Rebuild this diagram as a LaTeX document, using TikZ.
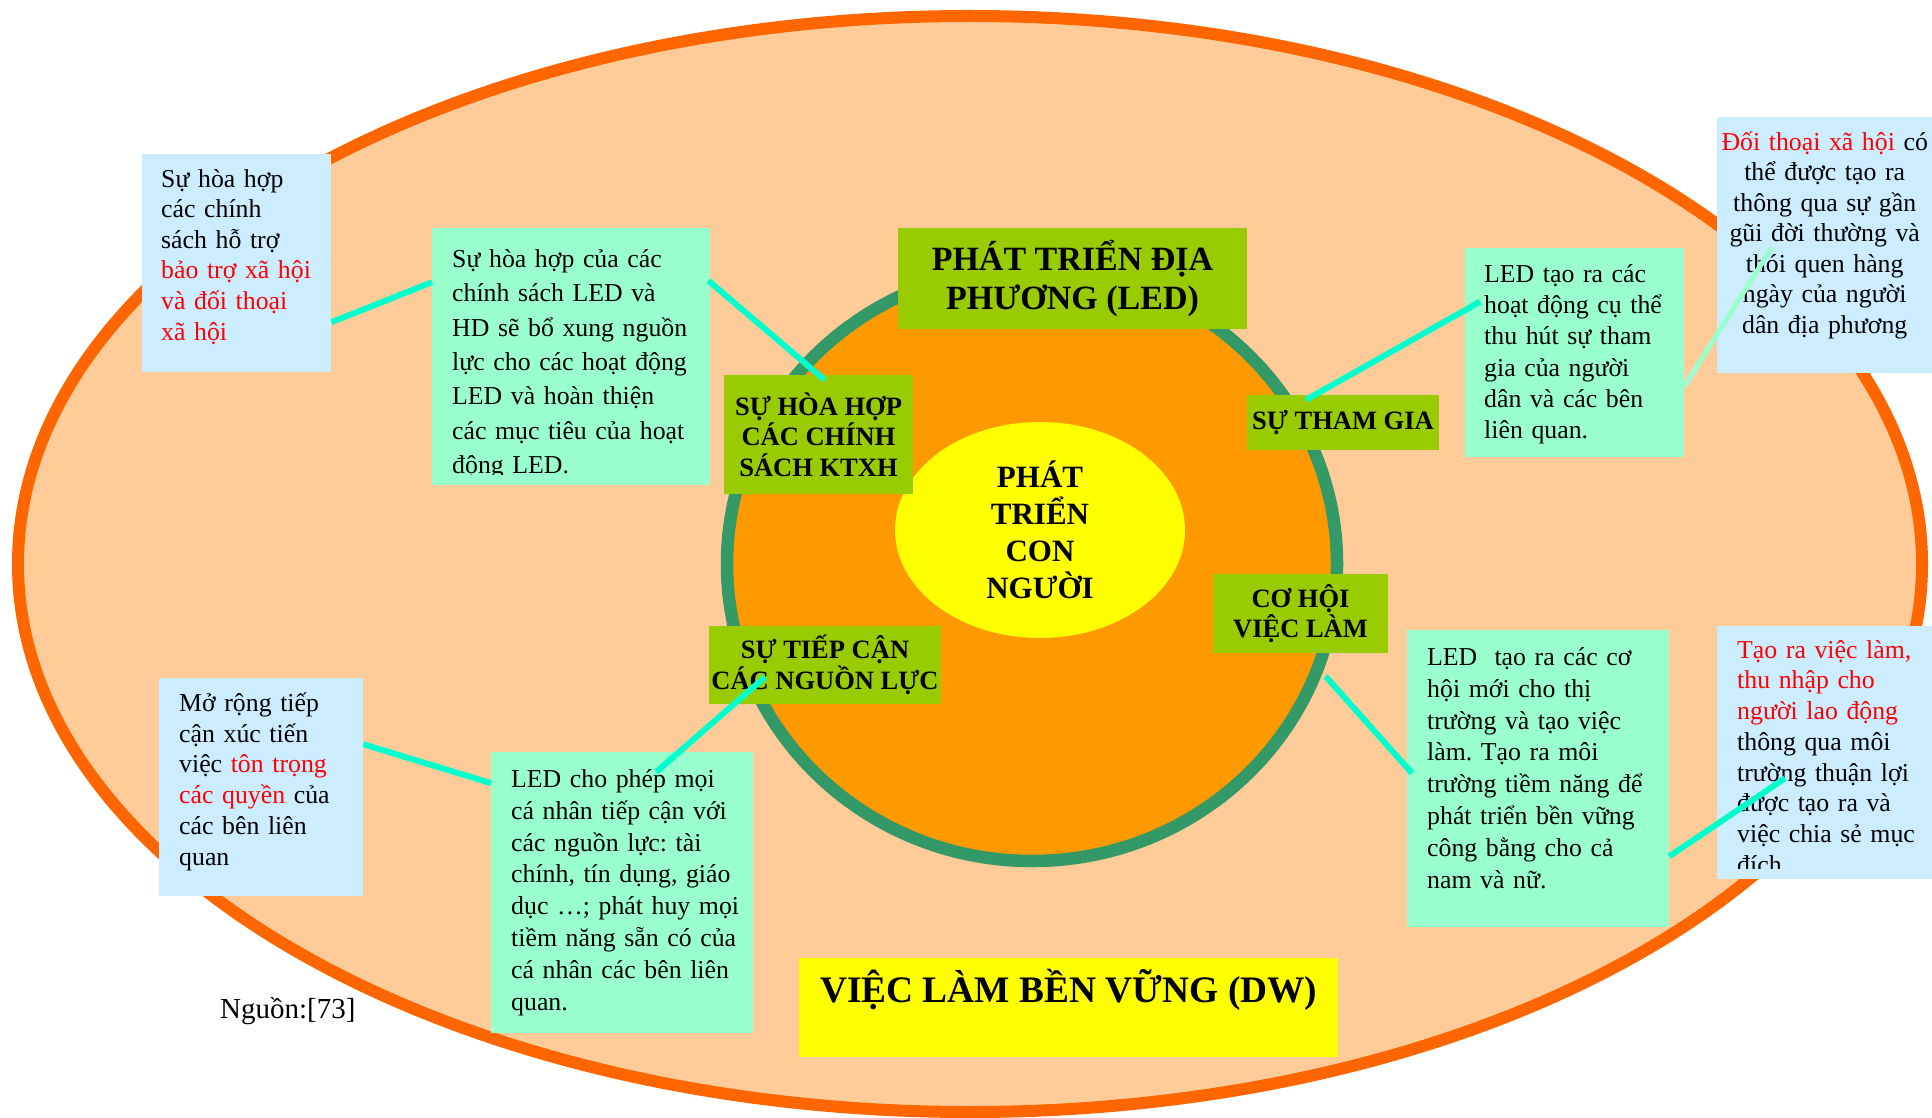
\documentclass[tikz,border=0pt]{standalone}
\usepackage{fontspec}
\setmainfont{Liberation Serif}
\usepackage{tikz}
\usetikzlibrary{shapes}
\usepackage{xcolor}
\frenchspacing

\definecolor{peach}{HTML}{FFCC99}
\definecolor{rimOrange}{HTML}{FF6600}
\definecolor{ringGreen}{HTML}{339966}
\definecolor{coreOrange}{HTML}{FF9900}
\definecolor{sunYellow}{HTML}{FFFF00}
\definecolor{tagGreen}{HTML}{99CC00}
\definecolor{mintGreen}{HTML}{99FFCC}
\definecolor{skyBlue}{HTML}{CCECFF}
\definecolor{aquaLine}{HTML}{00FFCC}

\begin{document}
\begin{tikzpicture}[x=1pt,y=-1pt]
			\tikzstyle{note} = [rectangle, anchor=north west, inner ysep=0pt, align=left, execute at begin node={\rightskip=0pt plus 1fil minus 60pt\relax}, font=\fontsize{25.8}{30.7}\selectfont]
			\tikzstyle{tag} = [rectangle, fill=tagGreen, inner sep=0pt, align=center, font=\bfseries\fontsize{26.5}{30.5}\selectfont]
			\tikzstyle{link} = [line width=6pt, aquaLine]

			\useasboundingbox (0,0) rectangle (1932,1118);

			\draw [line width=12pt, draw=rimOrange, fill=peach] (970,564) ellipse [x radius=952pt, y radius=548pt];
			\draw [line width=12.5pt, draw=ringGreen, fill=coreOrange] (1032,564) ellipse [x radius=305pt, y radius=297pt];

			\node [ellipse, fill=sunYellow, minimum width=290pt, minimum height=216pt, inner sep=0pt, align=center, font=\bfseries\fontsize{31}{37}\selectfont] (conNguoi) at (1040,530) {PHÁT\\TRIỂN\\CON\\NGƯỜI};

			\node [tag, minimum width=349pt, minimum height=101pt, font=\bfseries\fontsize{34}{39}\selectfont] (led) at (1072.5,278.5) {PHÁT TRIỂN ĐỊA\\PHƯƠNG (LED)};
			\node [tag, minimum width=189pt, minimum height=119pt] (ktxh) at (818.5,434.5) {SỰ HÒA HỢP\\CÁC CHÍNH\\SÁCH KTXH};
			\node [tag, minimum width=192pt, minimum height=55pt] (thamGia) at (1343,422.5) {SỰ THAM GIA};
			\node [tag, minimum width=175pt, minimum height=79pt] (coHoi) at (1300.5,613.5) {CƠ HỘI\\VIỆC LÀM};
			\node [tag, minimum width=232pt, minimum height=78pt] (tiepCan) at (825,665) {SỰ TIẾP CẬN\\CÁC NGUỒN LỰC};

			\node [note, fill=skyBlue, inner xsep=19pt, text width=151pt, text height=33pt, text depth=185pt, font=\fontsize{25.8}{30.6}\selectfont] (hoTro) at (142,154) {Sự hòa hợp\\các chính\\sách hỗ trợ\\\textcolor{red}{bảo trợ xã hội\\và đối thoại\\xã hội}};
			\node [note, fill=mintGreen, inner xsep=20pt, text width=238pt, text height=39pt, text depth=218pt, font=\fontsize{25.8}{34.4}\selectfont] (chinhSach) at (432,228) {Sự hòa hợp của các\\chính sách LED và\\HD sẽ bổ xung nguồn\\lực cho các hoạt động\\LED và hoàn thiện\\các mục tiêu của hoạt\\động LED.};
			\node [note, fill=mintGreen, inner xsep=19pt, text width=181pt, text height=34pt, text depth=175pt, font=\fontsize{25.8}{31.3}\selectfont] (thuHut) at (1465,248) {LED tạo ra các\\hoạt động cụ thể\\thu hút sự tham\\gia của người\\dân và các bên\\liên quan.};
			\node [note, fill=skyBlue, inner xsep=8pt, text width=199pt, text height=33pt, text depth=223pt, align=center, execute at begin node={\leftskip=0pt plus 1fil minus 30pt\rightskip=0pt plus 1fil minus 30pt\relax}, font=\fontsize{25.8}{30.5}\selectfont] (doiThoai) at (1717,117) {\textcolor{red}{Đối thoại xã hội} có\\thể được tạo ra\\thông qua sự gần\\gũi đời thường và\\thói quen hàng\\ngày của người\\dân địa phương};
			\node [note, fill=skyBlue, inner xsep=20pt, text width=164pt, text height=33pt, text depth=185pt, font=\fontsize{25.8}{30.8}\selectfont] (quyen) at (159,678) {Mở rộng tiếp\\cận xúc tiến\\việc \textcolor{red}{tôn trọng\\các quyền} của\\các bên liên\\quan};
			\node [note, fill=mintGreen, inner xsep=20pt, text width=222pt, text height=35pt, text depth=246pt, font=\fontsize{25.8}{31.9}\selectfont] (nguonLuc) at (491,752) {LED cho phép mọi\\cá nhân tiếp cận với\\các nguồn lực: tài\\chính, tín dụng, giáo\\dục …; phát huy mọi\\tiềm năng sẵn có của\\cá nhân các bên liên\\quan.};
			\node [note, fill=mintGreen, inner xsep=20pt, text width=222pt, text height=35pt, text depth=262pt, font=\fontsize{25.8}{31.9}\selectfont] (coHoiMoi) at (1407,630) {LED\ \ tạo ra các cơ\\hội mới cho thị\\trường và tạo việc\\làm. Tạo ra môi\\trường tiềm năng để\\phát triển bền vững\\công bằng cho cả\\nam và nữ.};
			\node [note, fill=skyBlue, inner xsep=20pt, text width=175pt, text height=32pt, text depth=221pt, font=\fontsize{25.8}{30.7}\selectfont] (thuNhap) at (1717,626) {\textcolor{red}{Tạo ra việc làm,\\thu nhập cho\\người lao động}\\thông qua môi\\trường thuận lợi\\được tạo ra và\\việc chia sẻ mục\\đích};

			\fill [mintGreen] (432,475) rectangle (710,485);
			\fill [skyBlue] (1717,869) rectangle (1932,879);

			\node [rectangle, fill=sunYellow, anchor=north west, inner sep=0pt, minimum width=539pt, text height=44pt, text depth=55pt, font=\bfseries\fontsize{37.4}{41}\selectfont] (dw) at (799,958) {VIỆC LÀM BỀN VỮNG (DW)};
			\node [anchor=base west, inner sep=0pt, font=\fontsize{29}{33}\selectfont] (nguon) at (220,1018) {Nguồn:[73]};

			\draw [link] ([yshift=-59pt]hoTro.east) -- ([yshift=74.5pt]chinhSach.west);
			\draw [link] ([xshift=-2pt,yshift=76pt]chinhSach.east) -- ([xshift=6pt,yshift=-5pt]ktxh.north);
			\draw [link] ([xshift=-37pt,yshift=-5pt]thamGia.north) -- ([xshift=15pt,yshift=51pt]thuHut.west);
			\draw [link, mintGreen, line width=5pt] ([yshift=-33.5pt]thuHut.east) -- ([xshift=55pt,yshift=-2pt]doiThoai.west);
			\draw [link] ([yshift=43pt]quyen.east) -- ([yshift=109.5pt]nguonLuc.west);
			\draw [link] ([xshift=34pt,yshift=-20pt]nguonLuc.north) -- ([xshift=-60pt,yshift=-12pt]tiepCan.center);
			\draw [link] ([xshift=25pt,yshift=-23pt]coHoi.south) -- ([xshift=5pt,yshift=5.5pt]coHoiMoi.west);
			\draw [link] ([yshift=-77.5pt]coHoiMoi.east) -- ([xshift=68pt,yshift=-25.5pt]thuNhap.west);

		\end{tikzpicture}
\end{document}
